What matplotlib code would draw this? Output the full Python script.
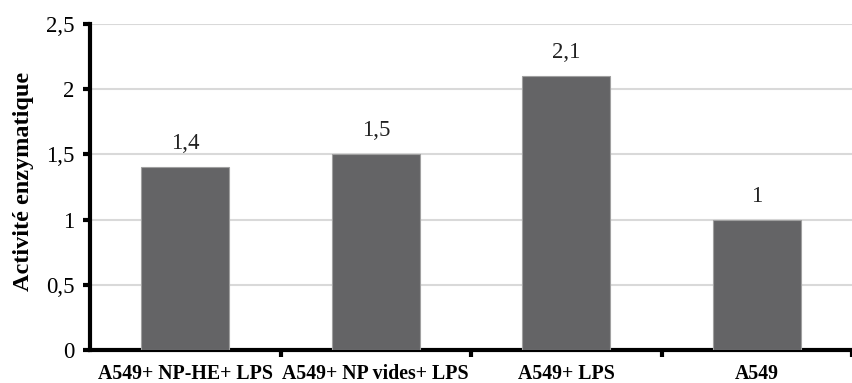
import matplotlib
matplotlib.use("Agg")
import matplotlib.pyplot as plt
import numpy as np

categories = ["A549+ NP-HE+ LPS", "A549+ NP vides+ LPS", "A549+ LPS", "A549"]
values = [1.4, 1.5, 2.1, 1.0]
value_labels = ["1,4", "1,5", "2,1", "1"]
yticks = [0, 0.5, 1, 1.5, 2, 2.5]
ytick_labels = ["0", "0,5", "1", "1,5", "2", "2,5"]

plt.rcParams['font.family'] = ['Liberation Serif', 'DejaVu Serif']

fig = plt.figure(figsize=(8.52, 3.83), dpi=100)
ax = fig.add_axes([90/852, 1-350/383, 1-90/852, (350-24)/383])

x = np.arange(len(categories))
ax.bar(x, values, width=0.46, color="#646466", edgecolor="#a0a0a0", linewidth=0.8, zorder=3)
for xi, v, lab in zip(x, values, value_labels):
    ax.text(xi, v + 0.1, lab, ha="center", va="bottom", fontsize=16.5, color="#222222")

ax.set_ylim(0, 2.5)
ax.set_xlim(-0.5, 3.458)
ax.set_yticks(yticks)
ax.set_yticklabels(ytick_labels, fontsize=16.5)
ax.yaxis.grid(True, color="#d9d9d9", linewidth=1.5, zorder=0)
ax.set_axisbelow(True)

ax.set_xticks(x)
ax.set_xticklabels(categories, fontsize=14.3, fontweight="bold")
ax.set_xticks(np.arange(len(categories)) + 0.5, minor=True)
ax.tick_params(axis="x", which="major", length=0, pad=10)
ax.tick_params(axis="x", which="minor", length=5, width=3, direction="out")
ax.tick_params(axis="y", length=5, width=3, direction="out", pad=6)

for s in ["top", "right"]:
    ax.spines[s].set_visible(False)
ax.spines["left"].set_linewidth(3)
ax.spines["bottom"].set_linewidth(3)

ax.set_ylabel("Activité enzymatique", fontsize=17.5, fontweight="bold")
ax.yaxis.set_label_coords(-0.074, 0.517)

fig.savefig("out.png", dpi=100)
